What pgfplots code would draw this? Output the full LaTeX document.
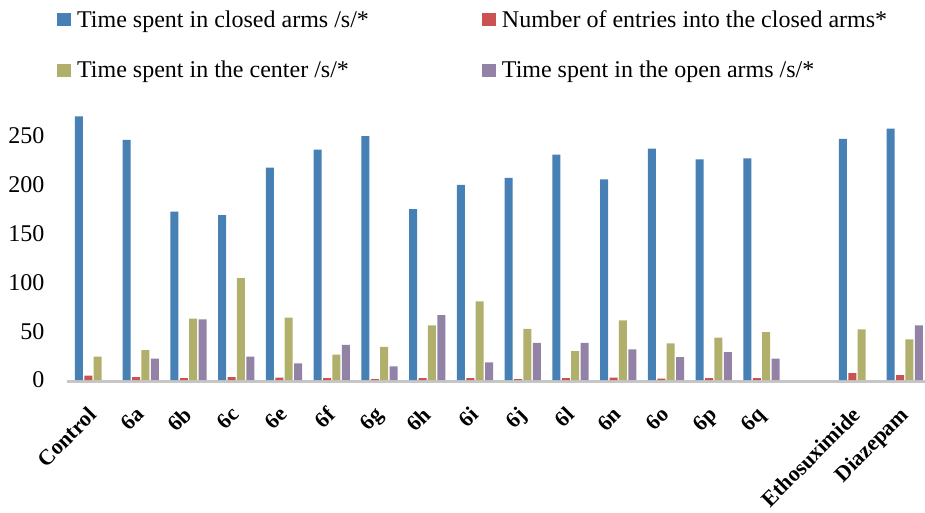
\documentclass[border=0pt]{standalone}
\usepackage{fontspec}
\setmainfont{Liberation Serif}
\usepackage{pgfplots}
\pgfplotsset{compat=1.18}
\definecolor{cblue}{RGB}{70,128,180}
\definecolor{cred}{RGB}{202,82,82}
\definecolor{cgreen}{RGB}{176,176,108}
\definecolor{cpurple}{RGB}{146,131,166}
\begin{document}
\begin{tikzpicture}
\path[use as bounding box] (0,0) rectangle (925pt,512pt);
\begin{axis}[
  at={(67pt,132pt)}, anchor=south west,
  x=47.75pt, y=0.976pt,
  xmin=-0.545, xmax=17.42, ymin=0, ymax=280,
  ybar=1.4pt, bar width=8pt,
  axis x line=bottom, axis y line=left,
  x axis line style={-, line width=3.4pt, gray!45, yshift=-1.7pt},
  y axis line style={draw=none},
  major tick length=0pt,
  ytick={0,50,...,250},
  xtick={0,...,14,16,17},
  xticklabels={Control,6a,6b,6c,6e,6f,6g,6h,6i,6j,6l,6n,6o,6p,6q,Ethosuximide,Diazepam},
  x tick label style={xshift=-6pt, yshift=-24pt, rotate=45, anchor=north east, font=\fontsize{22}{26}\selectfont\bfseries, inner sep=1pt},
  y tick label style={font=\fontsize{24}{28}\selectfont, /pgf/number format/assume math mode=true},
  yticklabel style={xshift=-19pt},
  legend columns=2,
  legend style={at={(-0.0117,1.36)}, anchor=north west, draw=none, fill=none, inner sep=0pt,
     font=\fontsize{24}{28}\selectfont, cells={anchor=west}, row sep=28pt,
     nodes={inner xsep=6pt},
     /tikz/every even column/.append style={column sep=107pt}},
  legend image code/.code={\fill[#1] (0pt,-6.5pt) rectangle (14pt,6.5pt);},
]
\addplot[fill=cblue, draw=none] coordinates {(0,270) (1,246) (2,172.5) (3,169) (4,217.5) (5,236) (6,250) (7,175) (8,200) (9,207) (10,231) (11,205.5) (12,237) (13,226) (14,227) (16,247) (17,257.5)};
\addplot[fill=cred, draw=none] coordinates {(0,4.5) (1,3) (2,2) (3,3) (4,2.5) (5,2) (6,1) (7,2) (8,2) (9,1) (10,2) (11,2.5) (12,1.5) (13,2) (14,2) (16,7) (17,5)};
\addplot[fill=cgreen, draw=none] coordinates {(0,24) (1,30.5) (2,63) (3,104.5) (4,64) (5,26) (6,34) (7,56) (8,80.5) (9,52.5) (10,29.5) (11,61) (12,37.5) (13,43.5) (14,49) (16,52) (17,41.5)};
\addplot[fill=cpurple, draw=none] coordinates {(1,22) (2,62) (3,24) (4,17) (5,36) (6,14) (7,66.5) (8,18) (9,38) (10,38) (11,31.5) (12,23.5) (13,28.5) (14,22) (17,56)};
\legend{Time spent in closed arms /s/*, Number of entries into the closed arms*, Time spent in the center /s/*, Time spent in the open arms /s/*}
\end{axis}
\end{tikzpicture}
\end{document}
